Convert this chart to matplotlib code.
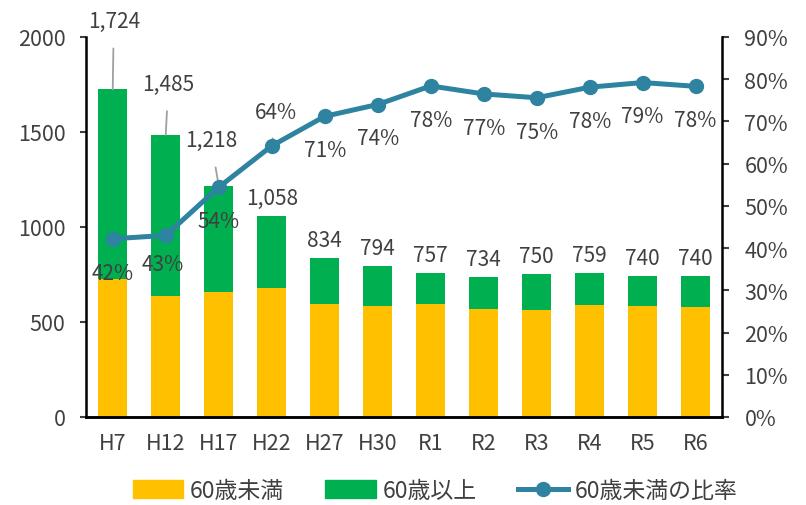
import matplotlib
matplotlib.use("Agg")
import matplotlib.pyplot as plt
from matplotlib.lines import Line2D
from matplotlib.patches import Patch
import numpy as np

plt.rcParams['font.family'] = ['Noto Sans CJK JP', 'DejaVu Sans']

# data
years = ["H7", "H12", "H17", "H22", "H27", "H30", "R1", "R2", "R3", "R4", "R5", "R6"]
totals = [1724, 1485, 1218, 1058, 834, 794, 757, 734, 750, 759, 740, 740]
under60 = [726, 638, 660, 680, 593, 586, 592, 566, 565, 590, 584, 578]
ratio = [42.2, 43.0, 54.4, 64.2, 71.2, 74.0, 78.4, 76.5, 75.6, 78.1, 79.2, 78.3]
ratio_labels = ["42%", "43%", "54%", "64%", "71%", "74%", "78%", "77%", "75%", "78%", "79%", "78%"]

over60 = [t - u for t, u in zip(totals, under60)]

yellow = "#FFC000"
green = "#00B050"
teal = "#2E84A0"
txt = "#404040"
fs = 15.5

fig = plt.figure(figsize=(8.06, 5.06), dpi=100)
ax = fig.add_axes([0.107, 0.174, 0.789, 0.751])
ax2 = ax.twinx()

x = np.arange(len(years))
ax.bar(x, under60, width=0.54, color=yellow, zorder=2)
ax.bar(x, over60, width=0.54, bottom=under60, color=green, zorder=2)

ax.set_ylim(0, 2000)
ax.set_yticks([0, 500, 1000, 1500, 2000])
ax.set_xlim(-0.5, len(years) - 0.5)
ax.set_xticks(x)
ax.set_xticklabels(years)
ax.tick_params(axis='x', length=0, pad=11, labelsize=fs, colors=txt)
ax.tick_params(axis='y', length=4, width=1.5, labelsize=fs, colors=txt, pad=11)

ax2.plot(x, ratio, color=teal, lw=3.6, marker='o', ms=10, zorder=5)
ax2.set_ylim(0, 90)
ax2.set_yticks(range(0, 91, 10))
ax2.set_yticklabels([f"{v}%" for v in range(0, 91, 10)])
ax2.tick_params(axis='y', length=5, width=1.5, labelsize=fs, colors=txt, pad=11)

for a in (ax, ax2):
    a.spines['top'].set_visible(False)
    for s in ('left', 'right', 'bottom'):
        a.spines[s].set_linewidth(1.8)
        a.spines[s].set_color('black')
ax2.spines['left'].set_visible(False)
ax.spines['right'].set_visible(False)

# total labels (first three lifted with leader lines)
lifted = {0: (0.02, 2085), 1: (0.05, 1755), 2: (-0.15, 1458)}
for i, t in enumerate(totals):
    lab = f"{t:,}"
    if i in lifted:
        dx, ty = lifted[i]
        ax.annotate(lab, (i, t), xytext=(i + dx, ty), ha='center', va='center',
                    fontsize=fs - 0.5, color=txt, annotation_clip=False,
                    arrowprops=dict(arrowstyle='-', color='#a0a0a0', lw=1.3, shrinkA=10, shrinkB=0))
    else:
        ax.text(i, t + 95, lab, ha='center', va='center', fontsize=fs - 0.5, color=txt)

# ratio labels
offsets = {1: (-0.05, -6.8), 3: (0.08, 8.0)}
for i, (r, lab) in enumerate(zip(ratio, ratio_labels)):
    dx, dy = offsets.get(i, (0.0, -8.0))
    if i == 3:
        ax2.annotate(lab, (i, r), xytext=(i + dx, r + dy), ha='center', va='center',
                     fontsize=fs - 0.5, color=txt,
                     arrowprops=dict(arrowstyle='-', color='#a0a0a0', lw=1.3, shrinkA=9, shrinkB=4))
    else:
        ax2.text(i + dx, r + dy, lab, ha='center', va='center', fontsize=fs - 0.5, color=txt, zorder=6)

handles = [Patch(color=yellow), Patch(color=green),
           Line2D([0], [0], color=teal, lw=3.6, marker='o', ms=10)]
fig.legend(handles, ["60歳未満", "60歳以上", "60歳未満の比率"], loc='lower center',
           bbox_to_anchor=(0.54, -0.035), ncol=3, frameon=False, fontsize=16.5,
           handlelength=2.2, handleheight=0.8, columnspacing=1.8, handletextpad=0.3,
           labelcolor=txt)

fig.savefig("out.png", dpi=100)
